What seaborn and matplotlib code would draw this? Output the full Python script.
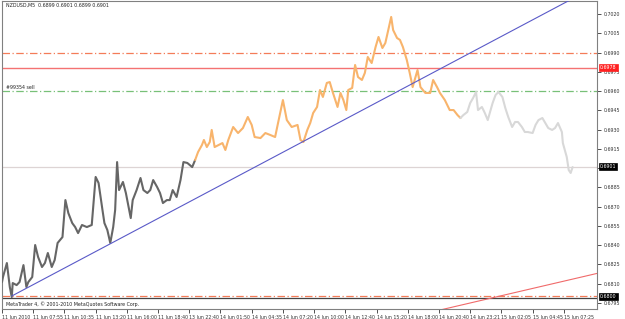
import matplotlib
matplotlib.use("Agg")
import matplotlib.pyplot as plt
import seaborn as sns
import pandas as pd

# ---------------- data ----------------
# M5 bar index and price
bars = [0, 1, 5, 8, 10, 11, 15, 18, 22, 25, 27, 31, 34, 37, 41, 44, 47, 51, 54, 57,
        62, 65, 68, 72, 75, 78, 82, 87, 92, 93, 96, 99, 103, 105, 108, 111, 114, 116, 118, 120,
        124, 127, 129, 132, 134, 138, 142, 145, 149, 152, 155, 159, 162, 165, 169, 172, 175, 179, 183, 186,
        190, 195, 198, 201,
        205, 207, 210, 213, 215, 218, 226, 229, 232, 237, 242, 247, 252, 256, 259, 265, 270, 275, 280, 283,
        288, 292, 297, 303, 306, 309, 313, 316, 319, 323, 326, 329, 333, 336, 339, 344, 347, 350, 353, 355,
        359, 362, 365, 369, 372, 375, 379, 383, 386, 390, 393, 396, 399, 401, 405, 408, 411, 415, 418, 421,
        426, 429, 434, 439, 442, 446, 449, 454, 459, 463, 467, 470, 473, 477, 480, 483, 486,
        488, 492, 495, 498, 503, 506, 509, 513, 516, 519, 523, 526, 529, 533, 536, 539, 544, 547, 550,
        554, 557, 560, 564, 567, 570, 574, 575, 579, 581, 583, 585]
prices = [0.68113, 0.68152, 0.68261, 0.68074, 0.67996, 0.68105, 0.68089, 0.68113, 0.68245, 0.68074,
          0.68113, 0.68152, 0.68401, 0.68308, 0.68230, 0.68261, 0.68339, 0.68230, 0.68284, 0.68417,
          0.68463, 0.68751, 0.68650, 0.68572, 0.68541, 0.68494, 0.68557, 0.68541, 0.68557, 0.68650,
          0.68931, 0.68884, 0.68674, 0.68572, 0.68518, 0.68417, 0.68541, 0.68674, 0.69047, 0.68829,
          0.68892, 0.68806, 0.68728, 0.68611, 0.68751, 0.68829, 0.68923, 0.68829, 0.68806, 0.68829,
          0.68907, 0.68853, 0.68806, 0.68728, 0.68751, 0.68751, 0.68829, 0.68775, 0.68907, 0.69047,
          0.69040, 0.69008, 0.69063, 0.69125,
          0.69180, 0.69219, 0.69164, 0.69203, 0.69297, 0.69164, 0.69195, 0.69141, 0.69219, 0.69320,
          0.69273, 0.69312, 0.69398, 0.69336, 0.69242, 0.69234, 0.69273, 0.69258, 0.69242, 0.69351,
          0.69530, 0.69374, 0.69320, 0.69336, 0.69219, 0.69203, 0.69297, 0.69351, 0.69429, 0.69476,
          0.69608, 0.69554, 0.69663, 0.69670, 0.69593, 0.69476, 0.69585, 0.69530, 0.69452, 0.69608,
          0.69624, 0.69803, 0.69709, 0.69686, 0.69741, 0.69865, 0.69818, 0.69943, 0.70021, 0.69935,
          0.69974, 0.70075, 0.70177, 0.70075, 0.70013, 0.69998, 0.69943, 0.69842, 0.69741, 0.69631,
          0.69764, 0.69631, 0.69585, 0.69585, 0.69686, 0.69631, 0.69585, 0.69530, 0.69452, 0.69452,
          0.69413, 0.69390, 0.69413, 0.69437, 0.69507, 0.69546, 0.69593,
          0.69452, 0.69476, 0.69429, 0.69374, 0.69507, 0.69569, 0.69593, 0.69554, 0.69468, 0.69398,
          0.69320, 0.69359, 0.69359, 0.69320, 0.69281, 0.69281, 0.69273, 0.69336, 0.69374, 0.69390,
          0.69351, 0.69312, 0.69297, 0.69312, 0.69351, 0.69281, 0.69195, 0.69086, 0.68985, 0.68962,
          0.69008]
segment_starts = [0, 63, 136]       # index where gray / orange / light-gray parts begin
segment_colors = ["#666666", "#f8b46c", "#d8d8d8"]

trend_blue_x = [10, 610]
trend_blue_y = [0.68004, 0.70420]
trend_red_x = [449, 610]
trend_red_y = [0.67895, 0.68180]

level_dashdot_orange = [0.6990, 0.68008]
level_red = 0.6978
level_green = 0.6960
level_bid = 0.6901
level_dark = 0.67988

y_ticks = [0.7020, 0.7005, 0.6990, 0.6975, 0.6960, 0.6945, 0.6930, 0.6915, 0.6900,
           0.6885, 0.6870, 0.6855, 0.6840, 0.6825, 0.6810, 0.6795]
y_hidden = [0.6900]   # label covered by the bid box
x_tick_bars = [0, 32, 64, 96, 128, 160, 192, 224, 256, 288, 320, 352, 384, 416, 448, 480, 512, 544, 576]
x_tick_labels = ["11 Jun 2010", "11 Jun 07:55", "11 Jun 10:35", "11 Jun 13:20", "11 Jun 16:00",
                 "11 Jun 18:40", "13 Jun 22:40", "14 Jun 01:50", "14 Jun 04:35", "14 Jun 07:20",
                 "14 Jun 10:00", "14 Jun 12:40", "14 Jun 15:20", "14 Jun 18:00", "14 Jun 20:40",
                 "14 Jun 23:21", "15 Jun 02:05", "15 Jun 04:45", "15 Jun 07:25"]

title_text = "NZDUSD,M5  0.6899 0.6901 0.6899 0.6901"
order_text = "#99354 sell"
copyright_text = "MetaTrader 4, \u00a9 2001-2010 MetaQuotes Software Corp."

# ---------------- drawing ----------------
sns.set_style("white")
plt.rcParams["font.family"] = ["DejaVu Sans"]
FS = 3.4

fig = plt.figure(figsize=(6.25, 3.19), dpi=100)
ax = fig.add_axes([2 / 625, 10 / 319, 595 / 625, 308 / 319])

df = pd.DataFrame({"bar": bars, "price": prices})
bounds = segment_starts + [len(bars)]
for i, col in enumerate(segment_colors):
    s, e = bounds[i], bounds[i + 1]
    part = df.iloc[max(s - 1, 0):e]
    sns.lineplot(data=part, x="bar", y="price", ax=ax, color=col, lw=1.5,
                 sort=False, estimator=None, zorder=4)

for lv in level_dashdot_orange:
    ax.axhline(lv, color="#f47c58", lw=0.9, ls=(0, (6, 2, 1, 2)), zorder=2)
ax.axhline(level_red, color="#f47272", lw=1.0, zorder=2)
ax.axhline(level_green, color="#78c078", lw=0.9, ls=(0, (6, 2, 1, 2)), zorder=2)
ax.axhline(level_bid, color="#ddd4d4", lw=0.9, zorder=1)
ax.axhline(level_dark, color="#444444", lw=0.9, zorder=2)

sns.lineplot(x=trend_blue_x, y=trend_blue_y, ax=ax, color="#5a5ac8", lw=0.8, zorder=5)
sns.lineplot(x=trend_red_x, y=trend_red_y, ax=ax, color="#f06a6a", lw=0.8, zorder=5)

ax.set_xlim(0, 610)
ax.set_ylim(0.67903, 0.70301)
ax.set_xlabel("")
ax.set_ylabel("")

ax.yaxis.tick_right()
ax.set_yticks(y_ticks)
ax.set_yticklabels(["" if v in y_hidden else f"{v:.4f}" for v in y_ticks], fontsize=FS, color="#222222")
ax.tick_params(axis="y", direction="out", length=3, width=0.6, pad=1.5, colors="#333333", right=True)
ax.set_xticks(x_tick_bars)
ax.set_xticklabels(x_tick_labels, fontsize=FS, ha="left", color="#222222")
ax.tick_params(axis="x", direction="out", length=3, width=0.6, pad=1.5, colors="#333333", bottom=True)

for sp in ax.spines.values():
    sp.set_color("#808080")
    sp.set_linewidth(0.8)

# price labels in boxes on the axis
def price_box(val, fc, txt_color="white"):
    ax.text(1.005, val, f"{val:.4f}", transform=ax.get_yaxis_transform(), fontsize=FS,
            color=txt_color, va="center", ha="left", zorder=10, clip_on=False,
            bbox=dict(boxstyle="square,pad=0.2", fc=fc, ec=fc, lw=0.5))

price_box(level_red, "#ff2020")
price_box(level_bid, "#000000")
price_box(0.6800, "#000000")

ax.text(4, 0.70265, title_text, fontsize=FS, color="#222222", ha="left", va="center")
ax.text(4, level_green + 0.00025, order_text, fontsize=FS, color="#222222", ha="left", va="center")
ax.text(4, 0.67940, copyright_text, fontsize=FS, color="#222222", ha="left", va="center")

fig.savefig("out.png", dpi=100)
